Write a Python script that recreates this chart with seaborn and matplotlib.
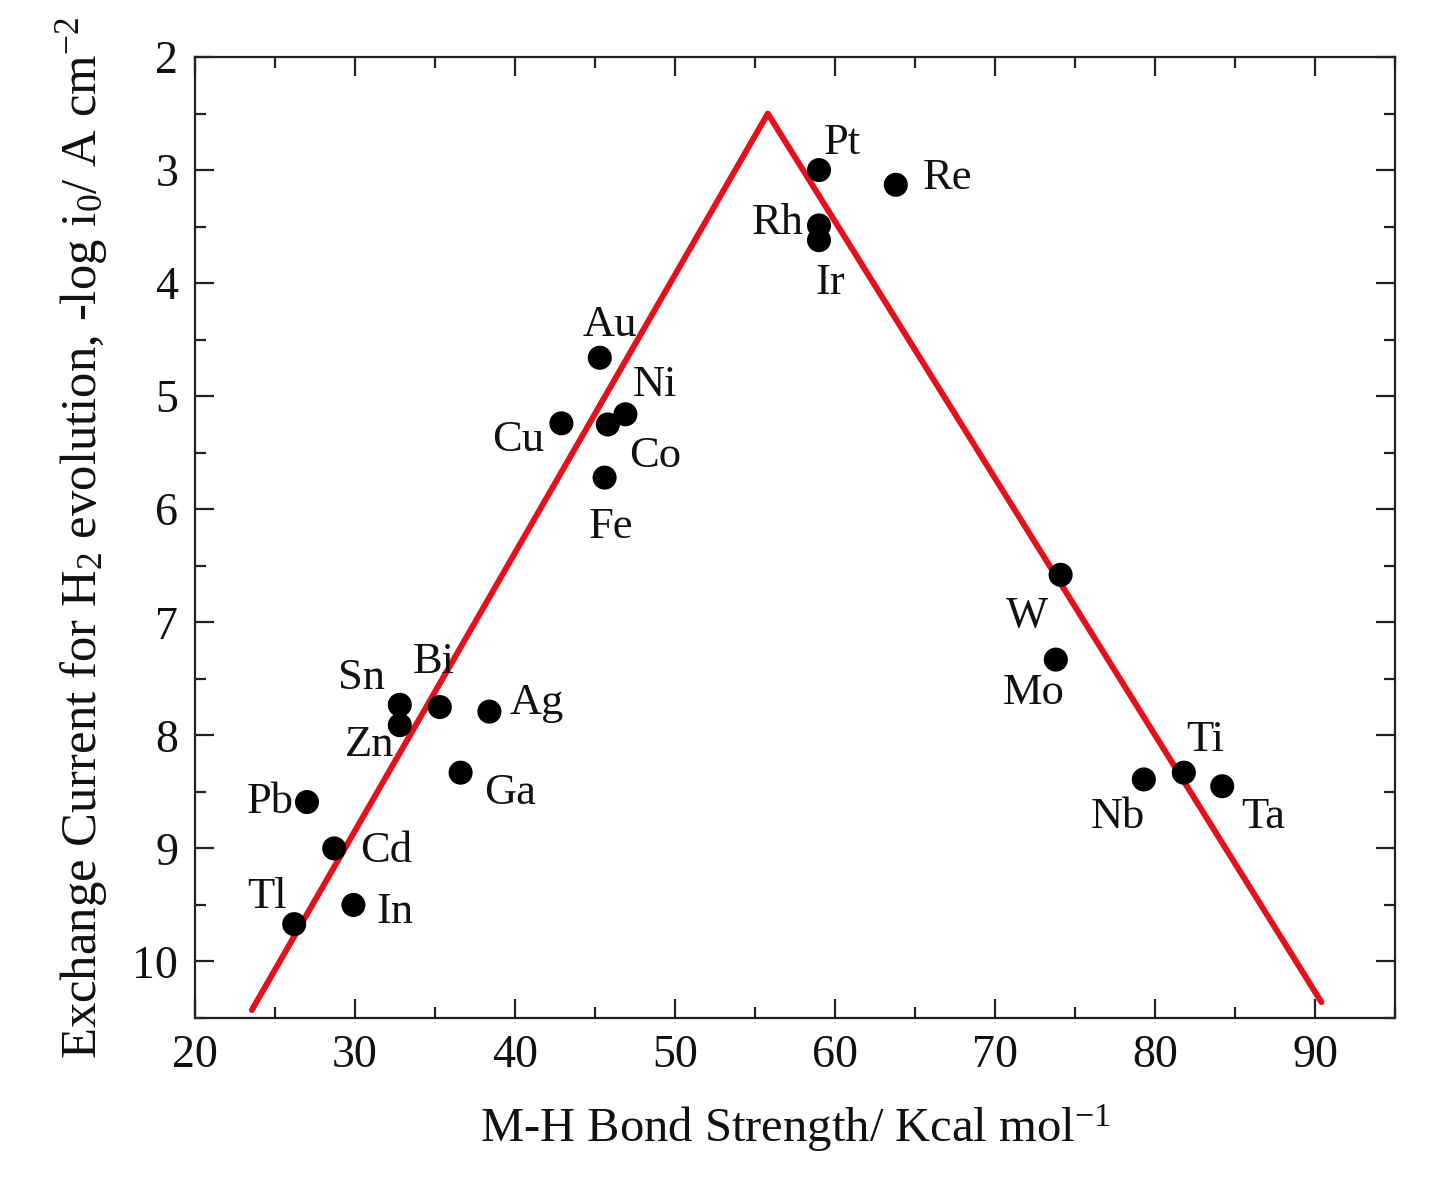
import numpy as np
import pandas as pd
import matplotlib
matplotlib.use("Agg")
import matplotlib.pyplot as plt
from matplotlib.ticker import MultipleLocator
import seaborn as sns

# data
metals = ["Pt", "Re", "Rh", "Ir", "Au", "Ni", "Cu", "Co", "Fe", "W", "Mo",
          "Ti", "Nb", "Ta", "Sn", "Zn", "Bi", "Ag", "Ga", "Pb", "Cd", "In", "Tl"]
bond_strength = [59.0, 63.8, 59.0, 59.0, 45.3, 46.9, 42.9, 45.8, 45.6, 74.1, 73.8,
                 81.8, 79.3, 84.2, 32.8, 32.8, 35.3, 38.4, 36.6, 27.0, 28.7, 29.9, 26.2]
log_i0 = [3.0, 3.13, 3.49, 3.62, 4.66, 5.16, 5.24, 5.25, 5.72, 6.58, 7.33,
          8.33, 8.39, 8.45, 7.73, 7.91, 7.75, 7.79, 8.33, 8.59, 9.0, 9.50, 9.67]

# volcano trend line
line_x = [23.55, 55.8, 90.4]
line_y = [10.43, 2.5, 10.36]

# label offsets in pixels (dx right, dy down)
label_offsets = [(23, -27), (52, -7), (-41, -2), (11, 43), (10, -33), (30, -29),
                 (-43, 17), (47, 32), (6, 49), (-34, 41), (-22, 33), (21, -33),
                 (-26, 38), (41, 31), (-38, -27), (-30, 20), (-6, -45), (47, -9),
                 (49, 20), (-37, 0), (52, 3), (41, 7), (-27, -27)]

df = pd.DataFrame({"metal": metals, "x": bond_strength, "y": log_i0})
trend = pd.DataFrame({"x": line_x, "y": line_y})

sns.set_style("ticks")
plt.rcParams["font.family"] = ["Liberation Serif", "DejaVu Serif"]
plt.rcParams["mathtext.fontset"] = "custom"
plt.rcParams["mathtext.rm"] = "Liberation Serif"
plt.rcParams["mathtext.it"] = "Liberation Serif:italic"
plt.rcParams["text.color"] = "#111111"
plt.rcParams["axes.labelcolor"] = "#111111"

fig = plt.figure(figsize=(14.37, 11.93), dpi=100)
ax = fig.add_axes([0.1357, 0.1467, 0.8351, 0.8055])

sns.lineplot(data=trend, x="x", y="y", ax=ax, color="#e5101c", linewidth=4.3,
             sort=False, zorder=2, solid_capstyle="round", solid_joinstyle="round")
sns.scatterplot(data=df, x="x", y="y", ax=ax, color="black", s=300,
                edgecolor="none", zorder=3)

for (name, xv, yv), (dx, dy) in zip(zip(metals, bond_strength, log_i0), label_offsets):
    ax.annotate(name, (xv, yv), xytext=(dx * 0.72, -dy * 0.72),
                textcoords="offset points", ha="center", va="center",
                fontsize=32, color="#111111")

ax.set_xlim(20, 95)
ax.set_ylim(10.5, 2)
ax.xaxis.set_major_locator(MultipleLocator(10))
ax.xaxis.set_minor_locator(MultipleLocator(5))
ax.yaxis.set_major_locator(MultipleLocator(1))
ax.yaxis.set_minor_locator(MultipleLocator(0.5))
ax.set_xticks(np.arange(20, 91, 10))
ax.tick_params(which="both", direction="in", top=True, right=True,
               labeltop=False, labelright=False, width=1.6, color="#222222",
               labelcolor="#111111")
ax.tick_params(which="major", length=14, labelsize=33, pad=12)
ax.tick_params(which="minor", length=8)
for sp in ax.spines.values():
    sp.set_linewidth(1.6)
    sp.set_color("#222222")

ax.set_xlabel("M-H Bond Strength/ Kcal mol$^{\\mathregular{-1}}$", fontsize=35, labelpad=18)
ax.set_ylabel("Exchange Current for H$_{\\mathregular{2}}$ evolution, -log i$_{\\mathregular{0}}$/ A cm$^{\\mathregular{-2}}$",
              fontsize=36.5, labelpad=16)

fig.savefig("out.png", dpi=100)
